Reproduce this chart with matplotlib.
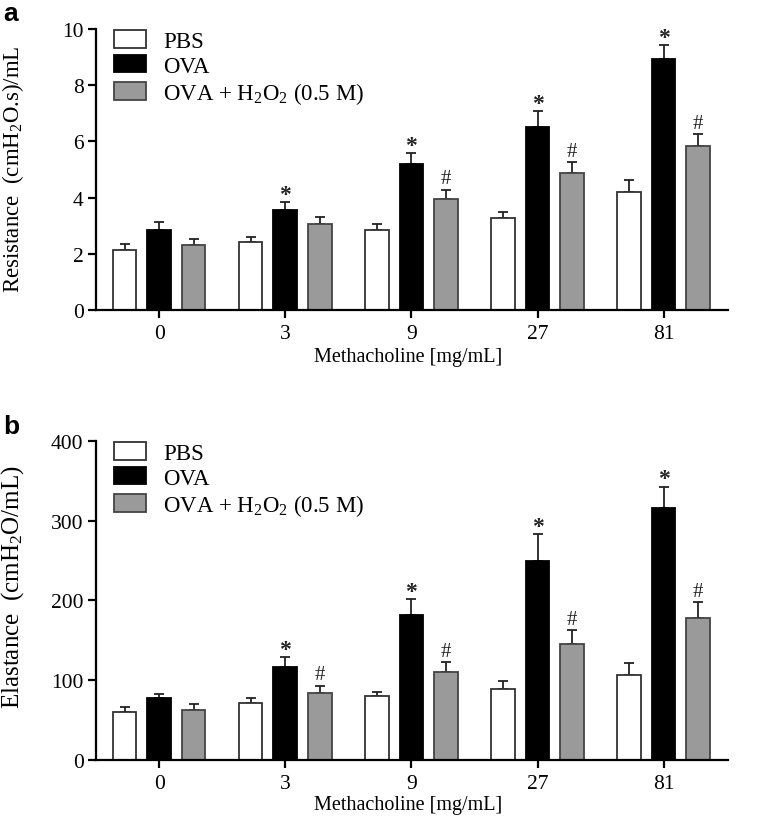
import matplotlib
matplotlib.use("Agg")
import matplotlib.pyplot as plt
import numpy as np

plt.rcParams['font.family'] = ['Liberation Serif', 'DejaVu Serif']
plt.rcParams['mathtext.fontset'] = 'custom'
plt.rcParams['mathtext.rm'] = 'Liberation Serif'
plt.rcParams['mathtext.it'] = 'Liberation Serif:italic'
plt.rcParams['mathtext.bf'] = 'Liberation Serif:bold'

# ---- data ----
doses = ['0', '3', '9', '27', '81']
groups = ['PBS', 'OVA', r'OVA + H$_2$O$_2$ (0.5 M)']

res_pbs = [2.12, 2.43, 2.86, 3.27, 4.21]
res_pbs_err = [0.23, 0.18, 0.21, 0.22, 0.40]
res_ova = [2.83, 3.57, 5.20, 6.53, 8.94]
res_ova_err = [0.31, 0.27, 0.38, 0.55, 0.48]
res_h2o2 = [2.33, 3.05, 3.95, 4.89, 5.85]
res_h2o2_err = [0.18, 0.27, 0.33, 0.36, 0.41]
res_star = [False, True, True, True, True]
res_hash = [False, False, True, True, True]

ela_pbs = [60.7, 71.9, 79.8, 89.2, 107.0]
ela_pbs_err = [5.4, 5.4, 5.0, 10.0, 15.0]
ela_ova = [77.3, 116.0, 182.0, 248.7, 315.9]
ela_ova_err = [5.3, 13.3, 20.0, 34.0, 26.6]
ela_h2o2 = [62.8, 83.5, 110.8, 145.9, 177.5]
ela_h2o2_err = [7.0, 9.5, 12.0, 16.5, 20.5]
ela_star = [False, True, True, True, True]
ela_hash = [False, True, True, True, True]

res_yticks = [0, 2, 4, 6, 8, 10]
ela_yticks = [0, 100, 200, 300, 400]

fills = ['white', 'black', '#9a9a9a']
edges = ['#333333', 'black', '#444444']

W, H = 781, 837
fig = plt.figure(figsize=(W / 100, H / 100), dpi=100)

ax_a = fig.add_axes([96 / W, 1 - 311 / H, (728 - 96) / W, (311 - 30) / H])
ax_b = fig.add_axes([96 / W, 1 - 761 / H, (728 - 96) / W, (761 - 441.7) / H])

TICK_FS = 15.5
LEG_FS = 16.5
XLAB_FS = 14.5


def panel(ax, series, errs, star, hashm, yticks, ylabel, ylab_fs, ylab_y, xlab_y, leg_y):
    x = np.arange(len(doses))
    width = 0.187
    offs = [-0.274, 0.0, 0.274]
    for i, (vals, er) in enumerate(zip(series, errs)):
        ax.bar(x + offs[i], vals, width, color=fills[i], edgecolor=edges[i],
               linewidth=1.3, label=groups[i], zorder=2)
        ax.errorbar(x + offs[i], vals, yerr=[np.zeros(len(vals)), er], fmt='none',
                    ecolor='#222222', elinewidth=1.3, capsize=3.8, capthick=1.3, zorder=1)
    ova, ova_e = series[1], errs[1]
    h2, h2_e = series[2], errs[2]
    for j in range(len(doses)):
        if star[j]:
            ax.annotate('*', (x[j] + offs[1], ova[j] + ova_e[j]), xytext=(0, -2),
                        textcoords='offset points', ha='center', va='bottom',
                        fontsize=17, fontweight='bold', color='#222222')
        if hashm[j]:
            ax.annotate('#', (x[j] + offs[2], h2[j] + h2_e[j]), xytext=(0, 1),
                        textcoords='offset points', ha='center', va='bottom',
                        fontsize=15, color='#222222')
    ax.set_xlim(-0.5, 4.51)
    ax.set_ylim(yticks[0], yticks[-1])
    ax.set_yticks(yticks)
    ax.set_xticks(x)
    ax.set_xticklabels(doses)
    for s in ['top', 'right']:
        ax.spines[s].set_visible(False)
    for s in ['left', 'bottom']:
        ax.spines[s].set_linewidth(1.6)
    ax.tick_params(axis='both', width=1.6, length=6, labelsize=TICK_FS, direction='out')
    ax.tick_params(axis='x', pad=4)
    ax.tick_params(axis='y', pad=3)
    ax.set_ylabel(ylabel, fontsize=ylab_fs)
    ax.yaxis.set_label_coords(-0.11, ylab_y)
    ax.set_xlabel('Methacholine [mg/mL]', fontsize=XLAB_FS)
    ax.xaxis.set_label_coords(0.494, xlab_y)
    ax.legend(loc='upper left', bbox_to_anchor=(0.028, leg_y), frameon=False,
              fontsize=LEG_FS, handlelength=1.4, handleheight=0.78,
              handletextpad=0.75, labelspacing=0.14, borderaxespad=0.0,
              borderpad=0.0)


panel(ax_a, [res_pbs, res_ova, res_h2o2], [res_pbs_err, res_ova_err, res_h2o2_err],
      res_star, res_hash, res_yticks, r'Resistance  (cmH$_2$O.s)/mL', 16.5,
      0.505, -0.13, 0.995)
panel(ax_b, [ela_pbs, ela_ova, ela_h2o2], [ela_pbs_err, ela_ova_err, ela_h2o2_err],
      ela_star, ela_hash, ela_yticks, r'Elastance  (cmH$_2$O/mL)', 18.0,
      0.545, -0.11, 0.995)

fig.text(3 / W, 1 - 21 / H, 'a', fontsize=19, fontweight='bold',
         family='Liberation Sans', ha='left', va='baseline')
fig.text(3 / W, 1 - 434 / H, 'b', fontsize=19, fontweight='bold',
         family='Liberation Sans', ha='left', va='baseline')

fig.savefig('out.png', dpi=100)
